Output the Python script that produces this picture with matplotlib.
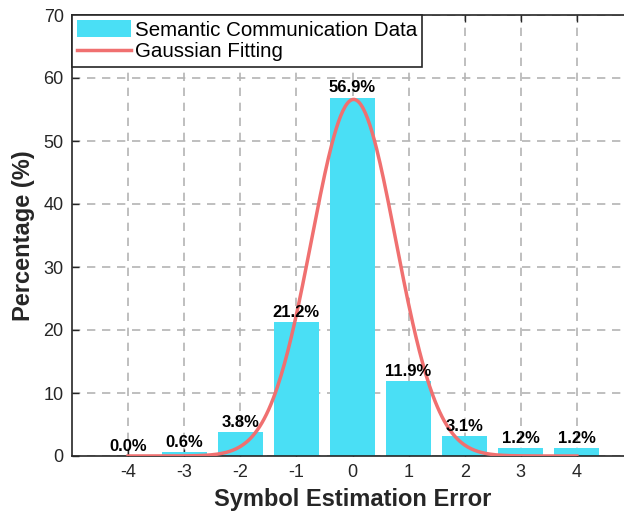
import numpy as np
import matplotlib
matplotlib.use("Agg")
import matplotlib.pyplot as plt

# datos
errores = [-4, -3, -2, -1, 0, 1, 2, 3, 4]
porcentajes = [0.0, 0.6, 3.8, 21.2, 56.9, 11.9, 3.1, 1.2, 1.2]
# parametros del ajuste gaussiano (amplitud, media, sigma)
ajuste_a = 56.6
ajuste_mu = 0.02
ajuste_sigma = 0.75
yticks = [0, 10, 20, 30, 40, 50, 60, 70]

plt.rcParams['font.family'] = ['Liberation Sans', 'DejaVu Sans']
plt.rcParams['axes.unicode_minus'] = False

color_barra = '#4adff5'
color_linea = '#f07070'
gris = '#262626'

fig = plt.figure(figsize=(6.24, 5.18), dpi=100)
ax = fig.add_axes([72 / 624, 62 / 518, 561 / 624, 441 / 518])

# rejilla manual por debajo de las barras
for y in yticks:
    ax.axhline(y, color='#b4b4b4', linestyle=(0, (5, 4)), linewidth=1.2, zorder=0)
for x in errores + [5]:
    ax.axvline(x, color='#b4b4b4', linestyle=(0, (5, 4)), linewidth=1.2, zorder=0)

barras = ax.bar(errores, porcentajes, width=0.8, color=color_barra,
                label='Semantic Communication Data', zorder=2)

xs = np.linspace(errores[0], errores[-1], 400)
ys = ajuste_a * np.exp(-(xs - ajuste_mu) ** 2 / (2 * ajuste_sigma ** 2))
linea, = ax.plot(xs, ys, color=color_linea, linewidth=2.5, label='Gaussian Fitting', zorder=3)

for x, p in zip(errores, porcentajes):
    ax.annotate(f'{p:.1f}%', (x, p), xytext=(0, 1.5), textcoords='offset points',
                ha='center', va='bottom', fontsize=12, fontweight='bold',
                color='black', zorder=4)

ax.set_xlim(-5, 5)
ax.set_ylim(0, 70)
ax.set_xticks(errores)
ax.set_yticks(yticks)
ax.tick_params(direction='in', top=True, right=False, length=5, width=1,
               labelsize=13, colors=gris, pad=6)
for lado in ['left', 'bottom', 'top']:
    ax.spines[lado].set_color(gris)
    ax.spines[lado].set_linewidth(1.2)
ax.spines['right'].set_visible(False)

ax.set_xlabel('Symbol Estimation Error', fontsize=17, fontweight='bold', color=gris, labelpad=5)
ax.set_ylabel('Percentage (%)', fontsize=17, fontweight='bold', color=gris, labelpad=6)

leg = ax.legend([barras, linea], ['Semantic Communication Data', 'Gaussian Fitting'],
                loc='upper left', fontsize=14.8, frameon=True, fancybox=False,
                borderaxespad=0, handlelength=2.6, handleheight=0.9,
                borderpad=0.25, labelspacing=0.1, handletextpad=0.2)
leg.get_frame().set_edgecolor(gris)
leg.get_frame().set_linewidth(1.2)
leg.get_frame().set_alpha(1)
leg.set_zorder(5)

fig.savefig('out.png', dpi=100)
